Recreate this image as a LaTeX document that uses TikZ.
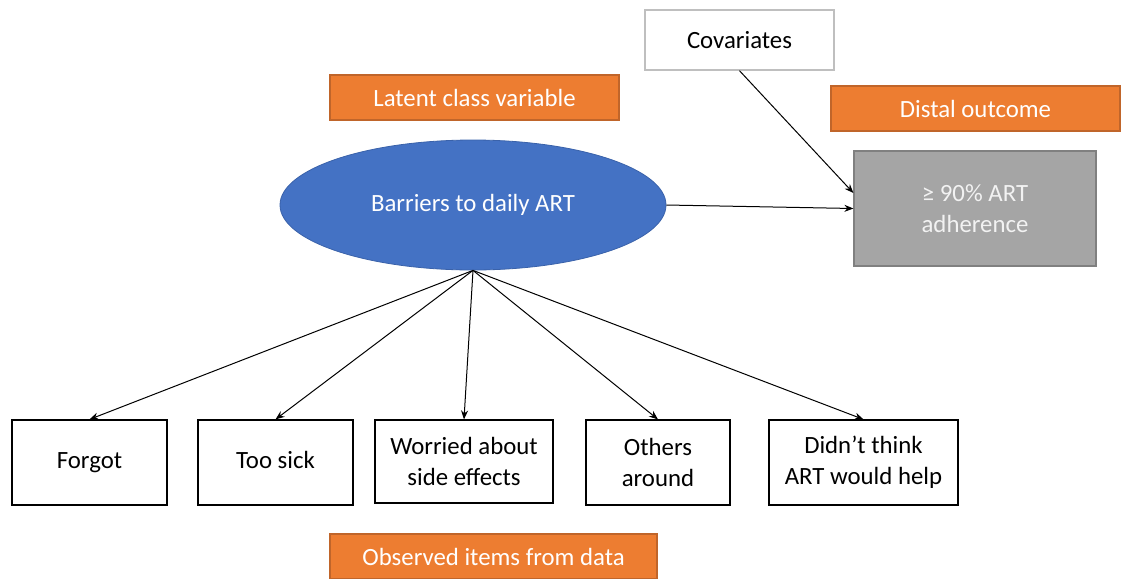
\documentclass[tikz,border=0pt]{standalone}
\usepackage{fontspec}
\setmainfont{Carlito}
\usetikzlibrary{shapes.geometric,arrows.meta}

\definecolor{boxorange}{HTML}{ED7D31}
\definecolor{edgeorange}{HTML}{C0652A}
\definecolor{ellblue}{HTML}{4472C4}
\definecolor{edgeblue}{HTML}{3A62AA}
\definecolor{outgrey}{HTML}{A5A5A5}
\definecolor{edgegrey}{HTML}{808080}
\definecolor{covgrey}{HTML}{BFBFBF}

\begin{document}
\begin{tikzpicture}[x=0.5pt,y=-0.5pt]
\tikzset{every node/.style={font=\fontsize{12.4}{15.5}\selectfont, align=center, inner sep=0pt},
  item/.style={draw=black, line width=0.6pt, fill=white, minimum height=42.5pt},
  tag/.style={draw=edgeorange, line width=0.6pt, fill=boxorange, text=white, minimum height=22.5pt, minimum width=144.5pt},
  link/.style={-{Stealth[length=4.5pt,width=3.5pt]}, line width=0.5pt}}
\useasboundingbox (0,0) rectangle (1121,579);

% Labels
\node[tag] at (474.5, 97.5) (latentlbl) {Latent class variable};
\node[tag] at (975.5, 108.5) (distallbl) {Distal outcome};
\node[tag, minimum width=163.5pt] at (493.5, 556.5) (observedlbl) {Observed items from data};

% Latent variable, covariates and outcome
\node[ellipse, draw=edgeblue, line width=0.4pt, fill=ellblue, text=white, minimum width=193pt, minimum height=65pt] at (473, 205) (barriers) {Barriers to daily ART};
\node[draw=covgrey, line width=0.7pt, fill=white, minimum width=94.5pt, minimum height=30pt] at (739.5, 40) (cov) {Covariates};
\node[draw=edgegrey, line width=0.6pt, fill=outgrey, text=white!95!black, minimum width=121pt, minimum height=57.5pt] at (975, 208.5) (adh) {≥ 90\% ART\\adherence};

% Observed items
\node[item, minimum width=77.5pt] at (89.5, 462.5) (forgot) {\strut Forgot};
\node[item, minimum width=77.5pt] at (275.5, 462.5) (sick) {\strut Too sick};
\node[item, minimum width=89pt, minimum height=41.5pt] at (464, 461.5) (worried) {Worried about\\side effects};
\node[item, minimum width=72pt] at (658, 462.5) (others) {Others\\around};
\node[item, minimum width=94.5pt] at (863.5, 462.5) (didnt) {Didn’t think\\ART would help};

% Arrows to outcome
\draw[link] (barriers.east) -- (adh.west);
\draw[link] (cov.south) -- ([yshift=7.75pt]adh.west);

% Arrows to items
\draw[link] (barriers.south) -- (forgot.north);
\draw[link] (barriers.south) -- (sick.north);
\draw[link] (barriers.south) -- (worried.north);
\draw[link] (barriers.south) -- (others.north);
\draw[link] (barriers.south) -- (didnt.north);
\end{tikzpicture}
\end{document}
